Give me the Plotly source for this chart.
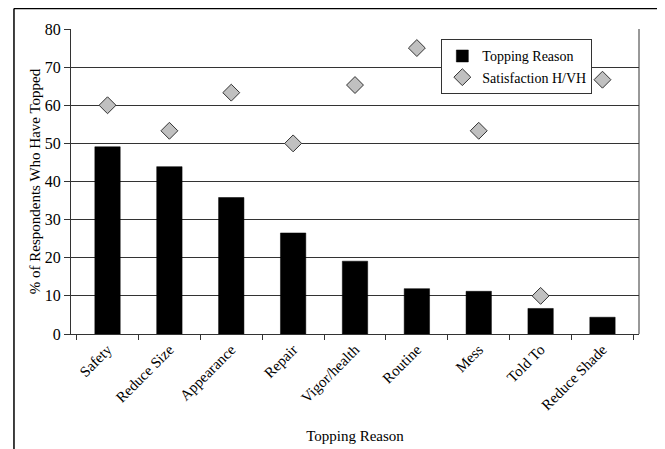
import plotly.graph_objects as go

categories = ["Safety", "Reduce Size", "Appearance", "Repair", "Vigor/health",
              "Routine", "Mess", "Told To", "Reduce Shade"]
topping_reason = [49.1, 43.9, 35.8, 26.5, 19.1, 11.9, 11.2, 6.7, 4.4]
satisfaction = [60.0, 53.3, 63.3, 50.0, 65.3, 75.0, 53.3, 10.0, 66.7]
y_ticks = [0, 10, 20, 30, 40, 50, 60, 70, 80]

font_family = "Times New Roman"

fig = go.Figure()
fig.add_trace(go.Bar(
    x=categories, y=topping_reason, name="Topping Reason",
    marker=dict(color="black", line=dict(color="black", width=0.5)),
    width=0.41,
))
fig.add_trace(go.Scatter(
    x=categories, y=satisfaction, name="Satisfaction H/VH", mode="markers",
    marker=dict(symbol="diamond", size=13, color="#c0c0c0",
                line=dict(color="#333333", width=1)),
))

fig.update_layout(
    width=657, height=441,
    margin=dict(l=63, r=26, t=21, b=115),
    paper_bgcolor="white", plot_bgcolor="white",
    font=dict(family=font_family, size=15, color="black"),
    showlegend=True,
    legend=dict(x=0.652, y=0.966, xanchor="left", yanchor="top",
                bgcolor="white", bordercolor="#333333", borderwidth=1,
                font=dict(size=14, family=font_family),
                itemwidth=30, tracegroupgap=0),
    bargap=0.59,
)
fig.update_xaxes(
    type="category", tickson="boundaries", ticks="outside", ticklen=5,
    tickcolor="#333333", showline=True, linecolor="#333333", linewidth=1,
    mirror=False, tickangle=-45, showgrid=False, automargin=False,
    tickfont=dict(size=15, family=font_family),
    title=dict(text="Topping Reason", font=dict(size=15, family=font_family), standoff=18),
)
fig.update_yaxes(
    range=[0, 80], tickvals=y_ticks, ticks="outside", ticklen=6,
    tickcolor="#333333", showline=True, linecolor="#333333", linewidth=1,
    showgrid=True, gridcolor="#333333", gridwidth=1, zeroline=False,
    automargin=False,
    tickfont=dict(size=16, family=font_family),
    title=dict(text="% of Respondents Who Have Topped",
               font=dict(size=15, family=font_family), standoff=0),
)
# right border of plot area
fig.add_shape(type="line", xref="paper", yref="paper", x0=1, x1=1, y0=0, y1=1,
              line=dict(color="#333333", width=1))
# outer frame (left & top)
fig.add_shape(type="line", xref="paper", yref="paper", x0=-0.1004, x1=-0.1004,
              y0=-0.5, y1=1.0672, line=dict(color="black", width=1.5))
fig.add_shape(type="line", xref="paper", yref="paper", x0=-0.1004, x1=1.1,
              y0=1.0672, y1=1.0672, line=dict(color="black", width=1.5))

fig.write_html("out.html")
